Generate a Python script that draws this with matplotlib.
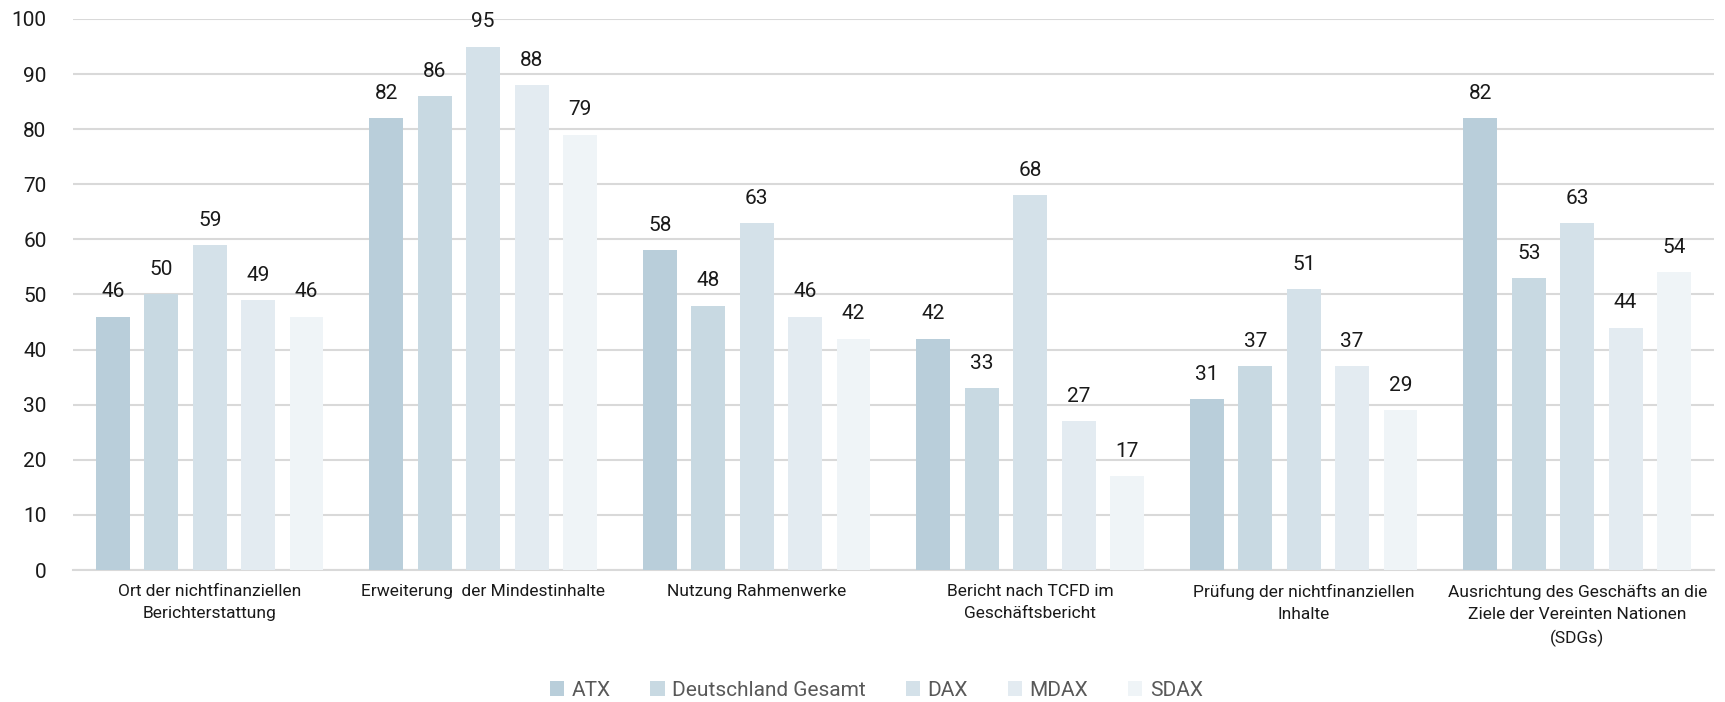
import matplotlib
matplotlib.use("Agg")
import matplotlib.pyplot as plt
import numpy as np

categories = [
    "Ort der nichtfinanziellen\nBerichterstattung",
    "Erweiterung  der Mindestinhalte",
    "Nutzung Rahmenwerke",
    "Bericht nach TCFD im\nGeschäftsbericht",
    "Prüfung der nichtfinanziellen\nInhalte",
    "Ausrichtung des Geschäfts an die\nZiele der Vereinten Nationen\n(SDGs)",
]
series_names = ["ATX", "Deutschland Gesamt", "DAX", "MDAX", "SDAX"]
atx = [46, 82, 58, 42, 31, 82]
deutschland = [50, 86, 48, 33, 37, 53]
dax = [59, 95, 63, 68, 51, 63]
mdax = [49, 88, 46, 27, 37, 44]
sdax = [46, 79, 42, 17, 29, 54]
colors = ["#B9CEDA", "#C8D9E2", "#D4E1E9", "#E3EBF1", "#EFF4F7"]

plt.rcParams['font.family'] = ['Roboto', 'DejaVu Sans']

fig = plt.figure(figsize=(17.25, 7.02), dpi=100)
ax = fig.add_axes([0.0423, 0.188, 0.9513, 0.785])

x = np.arange(len(categories))
step = 0.177
width = 0.124
all_series = [atx, deutschland, dax, mdax, sdax]
for i, (name, vals) in enumerate(zip(series_names, all_series)):
    pos = x + (i - 2) * step
    bars = ax.bar(pos, vals, width=width, color=colors[i], label=name, zorder=3)
    for b, v in zip(bars, vals):
        ax.annotate(str(v), (b.get_x() + b.get_width() / 2, v),
                    xytext=(0, 11), textcoords="offset points",
                    ha="center", va="bottom", fontsize=15, color="#1a1a1a")

ax.set_xlim(-0.5, len(categories) - 0.5)
ax.set_ylim(0, 100)
ax.set_yticks(range(0, 101, 10))
ax.yaxis.grid(True, color="#D9D9D9", linewidth=1.5, zorder=0)
for s in ["top", "right", "left"]:
    ax.spines[s].set_visible(False)
ax.spines["bottom"].set_color("#D9D9D9")
ax.spines["bottom"].set_linewidth(1.5)
ax.tick_params(axis="y", length=0, labelsize=15, pad=19, labelcolor="#1a1a1a")
ax.tick_params(axis="x", length=0, labelsize=12.5, pad=10, labelcolor="#1a1a1a")
ax.set_xticks(x)
ax.set_xticklabels(categories, linespacing=1.6)

leg = fig.legend(loc="center", bbox_to_anchor=(0.508, 0.017), ncol=5, frameon=False,
                 fontsize=15, handlelength=0.7, handleheight=0.7, handletextpad=0.35,
                 columnspacing=1.9, labelcolor="#595959")

fig.savefig("out.png", dpi=100)
